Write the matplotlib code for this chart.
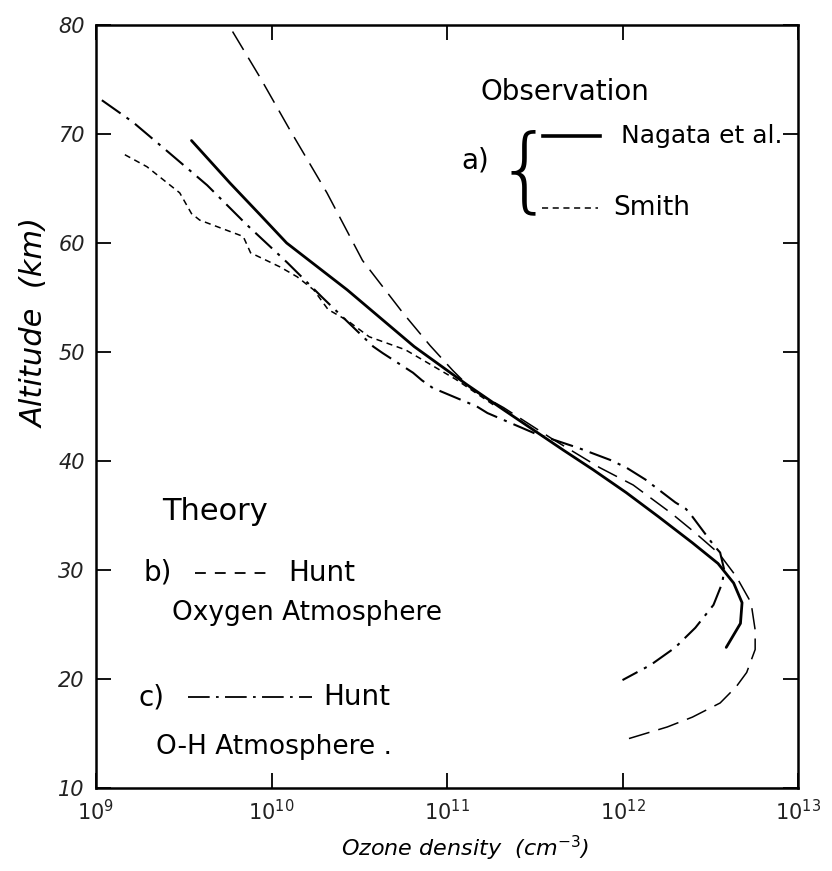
import numpy as np
import matplotlib.pyplot as plt

# Nagata et al. (observation, solid)
nagata_alt = [69.4, 65.5, 62.6, 60.0, 55.7, 50.5, 47.0, 44.7, 41.0, 39.2, 37.1, 34.9,
              32.5, 30.6, 28.8, 27.0, 25.1, 22.9]
nagata_dens = [3.5e9, 5.8e9, 8.6e9, 1.22e10, 2.7e10, 6.5e10, 1.3e11, 2.1e11, 4.6e11,
               6.8e11, 1.05e12, 1.6e12, 2.5e12, 3.5e12, 4.3e12, 4.8e12, 4.7e12, 3.9e12]

# Smith (observation, short dashes)
smith_alt = [68.1, 67.0, 64.6, 62.7, 62.1, 60.6, 59.1, 57.8, 56.9, 55.7, 53.9,
             52.9, 51.4, 50.2, 47.5, 45.0]
smith_dens = [1.46e9, 1.95e9, 3.0e9, 3.5e9, 3.9e9, 6.9e9, 7.6e9, 1.12e10, 1.4e10,
              1.74e10, 2.1e10, 2.7e10, 3.6e10, 5.8e10, 1.12e11, 1.9e11]

# Hunt, oxygen atmosphere (theory b, dashed)
hunt_b_alt = [79.4, 75.2, 70.4, 64.6, 58.4, 53.6, 50.6, 48.3, 46.5, 44.9, 42.0,
              39.4, 37.8, 35.2, 33.4, 31.5, 29.4, 27.0, 24.5, 22.7, 20.6, 19.3,
              17.8, 16.5, 15.6, 14.5]
hunt_b_dens = [6.0e9, 8.6e9, 1.27e10, 2.07e10, 3.3e10, 5.6e10, 8.0e10, 1.08e11,
               1.4e11, 2.1e11, 4.0e11, 7.4e11, 1.15e12, 1.9e12, 2.6e12, 3.55e12,
               4.45e12, 5.4e12, 5.7e12, 5.7e12, 5.1e12, 4.45e12, 3.6e12, 2.5e12,
               1.8e12, 1.07e12]

# Hunt, O-H atmosphere (theory c, dash-dot)
hunt_c_alt = [73.1, 71.1, 68.3, 65.3, 61.7, 58.2, 55.0, 50.5, 49.9, 48.1, 47.4,
              46.7, 45.0, 44.4, 42.5, 41.2, 40.1, 39.4, 38.3, 36.2, 35.6, 34.9,
              32.3, 31.6, 30.0, 28.8, 26.8, 24.7, 22.9, 21.3, 19.9]
hunt_c_dens = [1.08e9, 1.62e9, 2.6e9, 4.3e9, 7.2e9, 1.23e10, 1.95e10, 3.8e10,
               4.3e10, 6.4e10, 7.2e10, 8.3e10, 1.48e11, 1.7e11, 3.2e11, 5.6e11,
               8.5e11, 1.05e12, 1.35e12, 2.0e12, 2.3e12, 2.5e12, 3.3e12, 3.6e12,
               3.8e12, 3.7e12, 3.3e12, 2.6e12, 2.0e12, 1.45e12, 1.0e12]

alt_ticks = [10, 20, 30, 40, 50, 60, 70, 80]
dens_ticks = [1e9, 1e10, 1e11, 1e12, 1e13]
dens_labels = ['$10^9$', '$10^{10}$', '$10^{11}$', '$10^{12}$', '$10^{13}$']

fig = plt.figure(figsize=(8.32, 8.71), dpi=100)
ax = fig.add_axes([96 / 832, 1 - 788 / 871, 702 / 832, 763 / 871])

ax.plot(nagata_dens, nagata_alt, color='black', lw=2.0, solid_capstyle='round')
ax.plot(smith_dens, smith_alt, color='black', lw=1.1, dashes=(4, 3))
ax.plot(hunt_b_dens, hunt_b_alt, color='black', lw=1.1, dashes=(14, 6))
ax.plot(hunt_c_dens, hunt_c_alt, color='black', lw=1.5, dashes=(11, 3.5, 1.5, 3.5))

ax.set_xscale('log')
ax.set_xlim(1e9, 1e13)
ax.set_ylim(10, 80)
ax.set_xticks(dens_ticks)
ax.set_xticklabels(dens_labels)
ax.set_yticks(alt_ticks)
ax.minorticks_off()
ax.tick_params(direction='in', length=11, width=1.3, top=True, right=True,
               labelsize=15, pad=8)
for lab in ax.get_xticklabels() + ax.get_yticklabels():
    lab.set_fontstyle('italic')
    lab.set_color('#222222')
for sp in ax.spines.values():
    sp.set_linewidth(1.8)

ax.set_xlabel('Ozone density  (cm$^{-3}$)', fontsize=16, style='italic', va='center')
ax.xaxis.set_label_coords(0.526, -0.079)
ax.set_ylabel('Altitude  (km)', fontsize=22, style='italic', va='center')
ax.yaxis.set_label_coords(-0.087, 0.61)

# handwritten legend block, observation
tf = ax.transAxes
ax.text(0.668, 0.912, 'Observation', transform=tf, fontsize=20, ha='center', va='center')
ax.text(0.54, 0.823, 'a)', transform=tf, fontsize=20, ha='center', va='center')
ax.text(0.611, 0.805, '{', transform=tf, fontsize=66, ha='center', va='center',
        fontweight='light')
ax.plot([0.637, 0.718], [0.854, 0.854], transform=tf, color='black', lw=2.6)
ax.text(0.748, 0.854, 'Nagata et al.', transform=tf, fontsize=18, ha='left', va='center')
ax.plot([0.635, 0.715], [0.760, 0.760], transform=tf, color='black', lw=1.1, dashes=(4, 3))
ax.text(0.737, 0.760, 'Smith', transform=tf, fontsize=19, ha='left', va='center')

# theory block
ax.text(0.094, 0.362, 'Theory', transform=tf, fontsize=22, ha='left', va='center')
ax.text(0.068, 0.282, 'b)', transform=tf, fontsize=20, ha='left', va='center')
ax.plot([0.141, 0.251], [0.282, 0.282], transform=tf, color='black', lw=1.3, dashes=(6, 5))
ax.text(0.274, 0.282, 'Hunt', transform=tf, fontsize=20, ha='left', va='center')
ax.text(0.108, 0.229, 'Oxygen Atmosphere', transform=tf, fontsize=19, ha='left', va='center')
ax.text(0.061, 0.119, 'c)', transform=tf, fontsize=20, ha='left', va='center')
ax.plot([0.131, 0.308], [0.119, 0.119], transform=tf, color='black', lw=1.3,
        dashes=(12, 3.5, 1.5, 3.5))
ax.text(0.324, 0.119, 'Hunt', transform=tf, fontsize=20, ha='left', va='center')
ax.text(0.086, 0.054, 'O-H Atmosphere .', transform=tf, fontsize=19, ha='left', va='center')

fig.savefig('out.png', dpi=100)
